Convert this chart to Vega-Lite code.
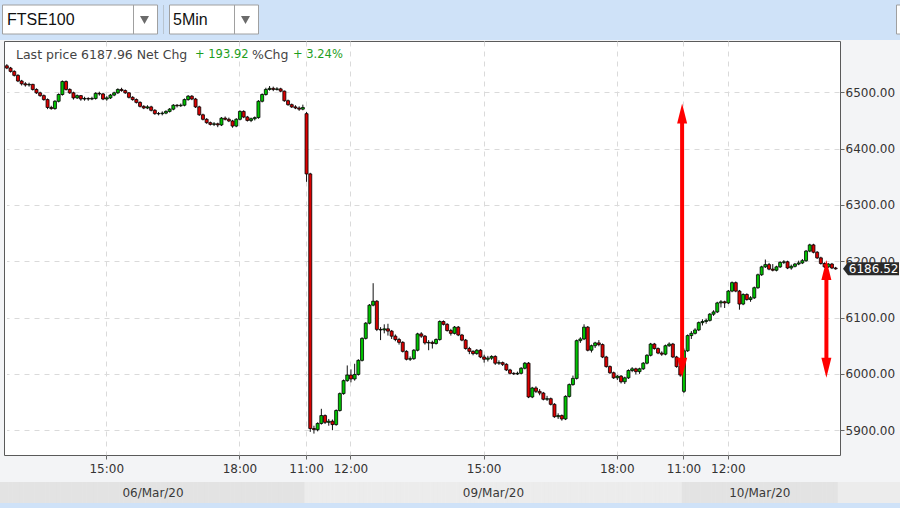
{
"$schema": "https://vega.github.io/schema/vega-lite/v6.json",
"width": 836, "height": 414,
"autosize": "none",
"padding": {"left": 4, "top": 41, "right": 60, "bottom": 53},
"background": "#f3f4f6",
"view": {"fill": "white", "stroke": "#5a5a5a", "strokeWidth": 1},
"config": {
  "font": "DejaVu Sans",
  "axis": {"labelFont": "DejaVu Sans", "labelFontSize": 12, "labelColor": "#333333", "tickColor": "#666666", "tickSize": 4, "domain": false, "grid": true, "gridColor": "#dadada", "gridDash": [5, 5]},
  "axisX": {"labelPadding": 4, "labelAngle": 0},
  "axisY": {"labelPadding": 1}
},
"datasets": {
"candles": [
{"t":"03-06 12:45","o":6547,"h":6550,"l":6541,"c":6543},
{"t":"03-06 12:50","o":6543,"h":6545,"l":6535,"c":6537},
{"t":"03-06 12:55","o":6537,"h":6539,"l":6528,"c":6530},
{"t":"03-06 13:00","o":6530,"h":6532,"l":6518,"c":6520},
{"t":"03-06 13:05","o":6520,"h":6522,"l":6512,"c":6515},
{"t":"03-06 13:10","o":6515,"h":6518,"l":6510,"c":6513},
{"t":"03-06 13:15","o":6513,"h":6517,"l":6510,"c":6514},
{"t":"03-06 13:20","o":6514,"h":6515,"l":6503,"c":6505},
{"t":"03-06 13:25","o":6505,"h":6507,"l":6497,"c":6499},
{"t":"03-06 13:30","o":6499,"h":6501,"l":6492,"c":6494},
{"t":"03-06 13:35","o":6494,"h":6496,"l":6485,"c":6487},
{"t":"03-06 13:40","o":6487,"h":6489,"l":6470,"c":6473},
{"t":"03-06 13:45","o":6473,"h":6476,"l":6469,"c":6471},
{"t":"03-06 13:50","o":6471,"h":6486,"l":6469,"c":6484},
{"t":"03-06 13:55","o":6484,"h":6498,"l":6482,"c":6496},
{"t":"03-06 14:00","o":6496,"h":6521,"l":6494,"c":6519},
{"t":"03-06 14:05","o":6519,"h":6521,"l":6503,"c":6505},
{"t":"03-06 14:10","o":6505,"h":6507,"l":6497,"c":6499},
{"t":"03-06 14:15","o":6499,"h":6501,"l":6487,"c":6490},
{"t":"03-06 14:20","o":6490,"h":6496,"l":6488,"c":6494},
{"t":"03-06 14:25","o":6494,"h":6495,"l":6485,"c":6488},
{"t":"03-06 14:30","o":6488,"h":6492,"l":6485,"c":6489},
{"t":"03-06 14:35","o":6489,"h":6491,"l":6485,"c":6488},
{"t":"03-06 14:40","o":6488,"h":6492,"l":6486,"c":6489},
{"t":"03-06 14:45","o":6489,"h":6500,"l":6487,"c":6498},
{"t":"03-06 14:50","o":6498,"h":6501,"l":6494,"c":6497},
{"t":"03-06 14:55","o":6497,"h":6499,"l":6486,"c":6488},
{"t":"03-06 15:00","o":6488,"h":6493,"l":6485,"c":6490},
{"t":"03-06 15:05","o":6490,"h":6497,"l":6488,"c":6495},
{"t":"03-06 15:10","o":6495,"h":6501,"l":6493,"c":6499},
{"t":"03-06 15:15","o":6499,"h":6507,"l":6497,"c":6505},
{"t":"03-06 15:20","o":6505,"h":6508,"l":6501,"c":6503},
{"t":"03-06 15:25","o":6503,"h":6505,"l":6497,"c":6499},
{"t":"03-06 15:30","o":6499,"h":6500,"l":6489,"c":6491},
{"t":"03-06 15:35","o":6491,"h":6493,"l":6485,"c":6487},
{"t":"03-06 15:40","o":6487,"h":6489,"l":6480,"c":6482},
{"t":"03-06 15:45","o":6482,"h":6484,"l":6473,"c":6475},
{"t":"03-06 15:50","o":6475,"h":6477,"l":6470,"c":6472},
{"t":"03-06 15:55","o":6472,"h":6477,"l":6470,"c":6474},
{"t":"03-06 16:00","o":6474,"h":6476,"l":6466,"c":6468},
{"t":"03-06 16:05","o":6468,"h":6470,"l":6460,"c":6462},
{"t":"03-06 16:10","o":6462,"h":6465,"l":6459,"c":6462},
{"t":"03-06 16:15","o":6462,"h":6466,"l":6459,"c":6463},
{"t":"03-06 16:20","o":6463,"h":6468,"l":6461,"c":6466},
{"t":"03-06 16:25","o":6466,"h":6472,"l":6464,"c":6470},
{"t":"03-06 16:30","o":6470,"h":6479,"l":6468,"c":6477},
{"t":"03-06 16:35","o":6477,"h":6479,"l":6473,"c":6476},
{"t":"03-06 16:40","o":6476,"h":6480,"l":6474,"c":6477},
{"t":"03-06 16:45","o":6477,"h":6489,"l":6475,"c":6487},
{"t":"03-06 16:50","o":6487,"h":6495,"l":6485,"c":6493},
{"t":"03-06 16:55","o":6493,"h":6495,"l":6486,"c":6488},
{"t":"03-06 17:00","o":6488,"h":6490,"l":6472,"c":6474},
{"t":"03-06 17:05","o":6474,"h":6476,"l":6458,"c":6460},
{"t":"03-06 17:10","o":6460,"h":6462,"l":6450,"c":6452},
{"t":"03-06 17:15","o":6452,"h":6454,"l":6444,"c":6446},
{"t":"03-06 17:20","o":6446,"h":6448,"l":6441,"c":6443},
{"t":"03-06 17:25","o":6443,"h":6447,"l":6440,"c":6444},
{"t":"03-06 17:30","o":6444,"h":6446,"l":6438,"c":6442},
{"t":"03-06 17:35","o":6442,"h":6456,"l":6440,"c":6454},
{"t":"03-06 17:40","o":6454,"h":6457,"l":6450,"c":6452},
{"t":"03-06 17:45","o":6452,"h":6455,"l":6447,"c":6449},
{"t":"03-06 17:50","o":6449,"h":6451,"l":6437,"c":6440},
{"t":"03-06 17:55","o":6440,"h":6454,"l":6438,"c":6452},
{"t":"03-06 18:00","o":6452,"h":6468,"l":6450,"c":6466},
{"t":"03-06 18:05","o":6466,"h":6468,"l":6454,"c":6456},
{"t":"03-06 18:10","o":6456,"h":6458,"l":6448,"c":6450},
{"t":"03-06 18:15","o":6450,"h":6455,"l":6447,"c":6453},
{"t":"03-06 18:20","o":6453,"h":6457,"l":6450,"c":6455},
{"t":"03-06 18:25","o":6455,"h":6486,"l":6453,"c":6484},
{"t":"03-06 18:30","o":6484,"h":6498,"l":6482,"c":6496},
{"t":"03-06 18:35","o":6496,"h":6508,"l":6494,"c":6505},
{"t":"03-06 18:40","o":6505,"h":6511,"l":6503,"c":6507},
{"t":"03-06 18:45","o":6507,"h":6510,"l":6502,"c":6505},
{"t":"03-06 18:50","o":6505,"h":6509,"l":6503,"c":6506},
{"t":"03-06 18:55","o":6506,"h":6508,"l":6500,"c":6502},
{"t":"03-06 19:00","o":6502,"h":6503,"l":6483,"c":6485},
{"t":"03-06 19:05","o":6485,"h":6487,"l":6476,"c":6478},
{"t":"03-06 19:10","o":6478,"h":6480,"l":6472,"c":6474},
{"t":"03-06 19:15","o":6474,"h":6477,"l":6470,"c":6472},
{"t":"03-06 19:20","o":6472,"h":6475,"l":6467,"c":6470},
{"t":"03-06 19:25","o":6470,"h":6478,"l":6468,"c":6473},
{"t":"03-09 11:00","o":6462,"h":6465,"l":6341,"c":6355},
{"t":"03-09 11:05","o":6355,"h":6357,"l":5897,"c":5903},
{"t":"03-09 11:10","o":5903,"h":5908,"l":5894,"c":5901},
{"t":"03-09 11:15","o":5901,"h":5914,"l":5898,"c":5912},
{"t":"03-09 11:20","o":5912,"h":5938,"l":5910,"c":5926},
{"t":"03-09 11:25","o":5926,"h":5928,"l":5911,"c":5914},
{"t":"03-09 11:30","o":5914,"h":5920,"l":5908,"c":5916},
{"t":"03-09 11:35","o":5916,"h":5919,"l":5900,"c":5910},
{"t":"03-09 11:40","o":5910,"h":5937,"l":5908,"c":5935},
{"t":"03-09 11:45","o":5935,"h":5967,"l":5933,"c":5965},
{"t":"03-09 11:50","o":5965,"h":5990,"l":5963,"c":5988},
{"t":"03-09 11:55","o":5988,"h":6015,"l":5986,"c":5998},
{"t":"03-09 12:00","o":5998,"h":6008,"l":5985,"c":5991},
{"t":"03-09 12:05","o":5991,"h":6018,"l":5988,"c":5999},
{"t":"03-09 12:10","o":5999,"h":6026,"l":5997,"c":6024},
{"t":"03-09 12:15","o":6024,"h":6065,"l":6022,"c":6063},
{"t":"03-09 12:20","o":6063,"h":6092,"l":6061,"c":6090},
{"t":"03-09 12:25","o":6090,"h":6124,"l":6088,"c":6122},
{"t":"03-09 12:30","o":6122,"h":6161,"l":6120,"c":6129},
{"t":"03-09 12:35","o":6129,"h":6131,"l":6076,"c":6079},
{"t":"03-09 12:40","o":6079,"h":6083,"l":6060,"c":6078},
{"t":"03-09 12:45","o":6078,"h":6088,"l":6072,"c":6080},
{"t":"03-09 12:50","o":6080,"h":6089,"l":6068,"c":6076},
{"t":"03-09 12:55","o":6076,"h":6078,"l":6062,"c":6067},
{"t":"03-09 13:00","o":6067,"h":6070,"l":6058,"c":6061},
{"t":"03-09 13:05","o":6061,"h":6064,"l":6052,"c":6056},
{"t":"03-09 13:10","o":6056,"h":6058,"l":6038,"c":6040},
{"t":"03-09 13:15","o":6040,"h":6042,"l":6024,"c":6026},
{"t":"03-09 13:20","o":6026,"h":6031,"l":6023,"c":6027},
{"t":"03-09 13:25","o":6027,"h":6044,"l":6025,"c":6042},
{"t":"03-09 13:30","o":6042,"h":6073,"l":6040,"c":6071},
{"t":"03-09 13:35","o":6071,"h":6074,"l":6064,"c":6067},
{"t":"03-09 13:40","o":6067,"h":6069,"l":6052,"c":6055},
{"t":"03-09 13:45","o":6055,"h":6060,"l":6042,"c":6056},
{"t":"03-09 13:50","o":6056,"h":6059,"l":6045,"c":6054},
{"t":"03-09 13:55","o":6054,"h":6063,"l":6052,"c":6061},
{"t":"03-09 14:00","o":6061,"h":6095,"l":6059,"c":6093},
{"t":"03-09 14:05","o":6093,"h":6095,"l":6086,"c":6088},
{"t":"03-09 14:10","o":6088,"h":6090,"l":6075,"c":6077},
{"t":"03-09 14:15","o":6077,"h":6080,"l":6068,"c":6072},
{"t":"03-09 14:20","o":6072,"h":6085,"l":6070,"c":6083},
{"t":"03-09 14:25","o":6083,"h":6085,"l":6067,"c":6069},
{"t":"03-09 14:30","o":6069,"h":6071,"l":6058,"c":6060},
{"t":"03-09 14:35","o":6060,"h":6062,"l":6043,"c":6045},
{"t":"03-09 14:40","o":6045,"h":6048,"l":6035,"c":6040},
{"t":"03-09 14:45","o":6040,"h":6042,"l":6033,"c":6036},
{"t":"03-09 14:50","o":6036,"h":6044,"l":6034,"c":6042},
{"t":"03-09 14:55","o":6042,"h":6044,"l":6028,"c":6030},
{"t":"03-09 15:00","o":6030,"h":6034,"l":6020,"c":6026},
{"t":"03-09 15:05","o":6026,"h":6032,"l":6022,"c":6028},
{"t":"03-09 15:10","o":6028,"h":6033,"l":6025,"c":6031},
{"t":"03-09 15:15","o":6031,"h":6033,"l":6016,"c":6019},
{"t":"03-09 15:20","o":6019,"h":6024,"l":6016,"c":6020},
{"t":"03-09 15:25","o":6020,"h":6022,"l":6014,"c":6017},
{"t":"03-09 15:30","o":6017,"h":6019,"l":6005,"c":6007},
{"t":"03-09 15:35","o":6007,"h":6009,"l":5999,"c":6001},
{"t":"03-09 15:40","o":6001,"h":6003,"l":5998,"c":6000},
{"t":"03-09 15:45","o":6000,"h":6004,"l":5998,"c":6001},
{"t":"03-09 15:50","o":6001,"h":6012,"l":5999,"c":6010},
{"t":"03-09 15:55","o":6010,"h":6021,"l":6008,"c":6019},
{"t":"03-09 16:00","o":6019,"h":6021,"l":5957,"c":5959},
{"t":"03-09 16:05","o":5959,"h":5977,"l":5957,"c":5975},
{"t":"03-09 16:10","o":5975,"h":5978,"l":5966,"c":5969},
{"t":"03-09 16:15","o":5969,"h":5973,"l":5962,"c":5966},
{"t":"03-09 16:20","o":5966,"h":5968,"l":5953,"c":5955},
{"t":"03-09 16:25","o":5955,"h":5961,"l":5952,"c":5956},
{"t":"03-09 16:30","o":5956,"h":5958,"l":5944,"c":5946},
{"t":"03-09 16:35","o":5946,"h":5948,"l":5922,"c":5924},
{"t":"03-09 16:40","o":5924,"h":5930,"l":5920,"c":5926},
{"t":"03-09 16:45","o":5926,"h":5928,"l":5917,"c":5920},
{"t":"03-09 16:50","o":5920,"h":5962,"l":5918,"c":5960},
{"t":"03-09 16:55","o":5960,"h":5983,"l":5958,"c":5981},
{"t":"03-09 17:00","o":5981,"h":5997,"l":5979,"c":5992},
{"t":"03-09 17:05","o":5992,"h":6061,"l":5990,"c":6059},
{"t":"03-09 17:10","o":6059,"h":6065,"l":6055,"c":6062},
{"t":"03-09 17:15","o":6062,"h":6088,"l":6060,"c":6083},
{"t":"03-09 17:20","o":6083,"h":6085,"l":6040,"c":6042},
{"t":"03-09 17:25","o":6042,"h":6052,"l":6038,"c":6050},
{"t":"03-09 17:30","o":6050,"h":6057,"l":6046,"c":6055},
{"t":"03-09 17:35","o":6055,"h":6060,"l":6049,"c":6052},
{"t":"03-09 17:40","o":6052,"h":6054,"l":6028,"c":6030},
{"t":"03-09 17:45","o":6030,"h":6032,"l":6011,"c":6013},
{"t":"03-09 17:50","o":6013,"h":6015,"l":6000,"c":6002},
{"t":"03-09 17:55","o":6002,"h":6004,"l":5991,"c":5993},
{"t":"03-09 18:00","o":5993,"h":5998,"l":5989,"c":5996},
{"t":"03-09 18:05","o":5996,"h":5998,"l":5983,"c":5986},
{"t":"03-09 18:10","o":5986,"h":5995,"l":5982,"c":5993},
{"t":"03-09 18:15","o":5993,"h":6008,"l":5991,"c":6006},
{"t":"03-09 18:20","o":6006,"h":6012,"l":6003,"c":6009},
{"t":"03-09 18:25","o":6009,"h":6011,"l":5999,"c":6004},
{"t":"03-09 18:30","o":6004,"h":6011,"l":6000,"c":6009},
{"t":"03-09 18:35","o":6009,"h":6021,"l":6007,"c":6019},
{"t":"03-09 18:40","o":6019,"h":6035,"l":6017,"c":6033},
{"t":"03-09 18:45","o":6033,"h":6055,"l":6031,"c":6053},
{"t":"03-09 18:50","o":6053,"h":6055,"l":6043,"c":6045},
{"t":"03-09 18:55","o":6045,"h":6047,"l":6035,"c":6037},
{"t":"03-09 19:00","o":6037,"h":6040,"l":6032,"c":6035},
{"t":"03-09 19:05","o":6035,"h":6052,"l":6033,"c":6050},
{"t":"03-09 19:10","o":6050,"h":6056,"l":6048,"c":6053},
{"t":"03-09 19:15","o":6053,"h":6055,"l":6028,"c":6030},
{"t":"03-09 19:20","o":6030,"h":6032,"l":6011,"c":6013},
{"t":"03-09 19:25","o":6013,"h":6015,"l":5995,"c":5998},
{"t":"03-10 11:00","o":5969,"h":6045,"l":5966,"c":6041},
{"t":"03-10 11:05","o":6041,"h":6070,"l":6039,"c":6068},
{"t":"03-10 11:10","o":6068,"h":6076,"l":6062,"c":6072},
{"t":"03-10 11:15","o":6072,"h":6081,"l":6070,"c":6078},
{"t":"03-10 11:20","o":6078,"h":6093,"l":6076,"c":6091},
{"t":"03-10 11:25","o":6091,"h":6097,"l":6086,"c":6093},
{"t":"03-10 11:30","o":6093,"h":6098,"l":6089,"c":6095},
{"t":"03-10 11:35","o":6095,"h":6108,"l":6093,"c":6106},
{"t":"03-10 11:40","o":6106,"h":6113,"l":6103,"c":6110},
{"t":"03-10 11:45","o":6110,"h":6128,"l":6108,"c":6126},
{"t":"03-10 11:50","o":6126,"h":6131,"l":6118,"c":6128},
{"t":"03-10 11:55","o":6128,"h":6130,"l":6117,"c":6126},
{"t":"03-10 12:00","o":6126,"h":6149,"l":6124,"c":6147},
{"t":"03-10 12:05","o":6147,"h":6164,"l":6145,"c":6162},
{"t":"03-10 12:10","o":6162,"h":6164,"l":6145,"c":6147},
{"t":"03-10 12:15","o":6147,"h":6149,"l":6114,"c":6124},
{"t":"03-10 12:20","o":6124,"h":6143,"l":6122,"c":6141},
{"t":"03-10 12:25","o":6141,"h":6143,"l":6130,"c":6132},
{"t":"03-10 12:30","o":6132,"h":6138,"l":6128,"c":6135},
{"t":"03-10 12:35","o":6135,"h":6155,"l":6133,"c":6153},
{"t":"03-10 12:40","o":6153,"h":6178,"l":6151,"c":6176},
{"t":"03-10 12:45","o":6176,"h":6192,"l":6174,"c":6190},
{"t":"03-10 12:50","o":6190,"h":6203,"l":6188,"c":6194},
{"t":"03-10 12:55","o":6194,"h":6197,"l":6184,"c":6186},
{"t":"03-10 13:00","o":6186,"h":6195,"l":6182,"c":6184},
{"t":"03-10 13:05","o":6184,"h":6192,"l":6182,"c":6190},
{"t":"03-10 13:10","o":6190,"h":6200,"l":6188,"c":6198},
{"t":"03-10 13:15","o":6198,"h":6202,"l":6195,"c":6199},
{"t":"03-10 13:20","o":6199,"h":6201,"l":6186,"c":6188},
{"t":"03-10 13:25","o":6188,"h":6194,"l":6185,"c":6191},
{"t":"03-10 13:30","o":6191,"h":6197,"l":6189,"c":6195},
{"t":"03-10 13:35","o":6195,"h":6201,"l":6193,"c":6197},
{"t":"03-10 13:40","o":6197,"h":6204,"l":6195,"c":6201},
{"t":"03-10 13:45","o":6201,"h":6220,"l":6199,"c":6218},
{"t":"03-10 13:50","o":6218,"h":6231,"l":6216,"c":6229},
{"t":"03-10 13:55","o":6229,"h":6231,"l":6214,"c":6216},
{"t":"03-10 14:00","o":6216,"h":6218,"l":6204,"c":6206},
{"t":"03-10 14:05","o":6206,"h":6208,"l":6194,"c":6196},
{"t":"03-10 14:10","o":6196,"h":6198,"l":6188,"c":6190},
{"t":"03-10 14:15","o":6190,"h":6197,"l":6188,"c":6195},
{"t":"03-10 14:20","o":6195,"h":6197,"l":6186,"c":6188},
{"t":"03-10 14:25","o":6188,"h":6190,"l":6185,"c":6186.52}
],
"arrows": [
{"t":"03-09 19:25","top":6480,"bottom":5993,"shaftTop":6450,"shaftBottom":6023},
{"t":"03-10 14:10","top":6202,"bottom":5993,"shaftTop":6172,"shaftBottom":6023}
],
"dates": [
{"t":"03-06 16:05","d":"06/Mar/20"},
{"t":"03-09 15:15","d":"09/Mar/20"},
{"t":"03-10 12:45","d":"10/Mar/20"}
],
"last": [{"t":"03-10 14:25","p":6186.52,"label":"6186.52"}]
},
"layer": [
{"data": {"values": [{}]}, "mark": {"type": "rect", "fill": "#cfe2f8"},
 "encoding": {"x": {"value": -4}, "x2": {"value": 896}, "y": {"value": -41}, "y2": {"value": -1}}},
{"data": {"values": [{}]}, "mark": {"type": "rect", "fill": "#cfe2f8"},
 "encoding": {"x": {"value": -4}, "x2": {"value": 896}, "y": {"value": 462}, "y2": {"value": 467}}},
{"data": {"values": [{}]}, "mark": {"type": "rect", "fill": "#e3e3e3"},
 "encoding": {"x": {"value": -4}, "x2": {"value": 2}, "y": {"value": 441}, "y2": {"value": 462}}},
{"data": {"values": [{}]}, "mark": {"type": "rect", "fill": "#ececec"},
 "encoding": {"x": {"value": 833}, "x2": {"value": 896}, "y": {"value": 441}, "y2": {"value": 462}}},
{"data": {"name": "candles"}, "mark": {"type": "bar", "width": 4.2},
 "encoding": {
   "x": {"field": "t", "type": "ordinal", "sort": "ascending", "title": null,
         "scale": {"type": "band", "range": [1, 833.5], "paddingInner": 0, "paddingOuter": 0},
         "axis": {"values": ["03-06 15:00","03-06 18:00","03-09 11:00","03-09 12:00","03-09 15:00","03-09 18:00","03-10 11:00","03-10 12:00"],
                  "labelExpr": "slice(datum.value, 6)", "title": null}},
   "y": {"value": 441}, "y2": {"value": 462},
   "fill": {"condition": {"test": "slice(datum.t, 0, 5) == '03-09'", "value": "#ececec"}, "value": "#e3e3e3"}}},
{"data": {"name": "dates"}, "mark": {"type": "text", "fontSize": 12, "font": "DejaVu Sans", "fill": "#3a3a3a", "baseline": "middle", "align": "center"},
 "encoding": {"x": {"field": "t", "type": "ordinal", "bandPosition": 0, "title": null}, "y": {"value": 451.5}, "text": {"field": "d"}}},
{"data": {"name": "candles"}, "mark": {"type": "rule", "color": "#111111", "strokeWidth": 1},
 "encoding": {
   "x": {"field": "t", "type": "ordinal", "title": null},
   "y": {"field": "l", "type": "quantitative", "title": null,
         "scale": {"domain": [5856, 6591], "nice": false, "zero": false},
         "axis": {"orient": "right", "values": [5900, 6000, 6100, 6200, 6300, 6400, 6500], "format": ".2f", "title": null}},
   "y2": {"field": "h"}}},
{"data": {"name": "candles"}, "mark": {"type": "bar", "width": 3, "stroke": "#000000", "strokeWidth": 0.8},
 "encoding": {
   "x": {"field": "t", "type": "ordinal", "title": null},
   "y": {"field": "o", "type": "quantitative", "title": null, "scale": {"domain": [5856, 6591], "nice": false, "zero": false}},
   "y2": {"field": "c"},
   "fill": {"condition": {"test": "datum.c >= datum.o", "value": "#00c400"}, "value": "#dc0000"}}},
{"data": {"name": "arrows"}, "mark": {"type": "rule", "color": "#ff0000", "strokeWidth": 4},
 "encoding": {
   "x": {"field": "t", "type": "ordinal", "bandPosition": 1, "title": null},
   "y": {"field": "shaftTop", "type": "quantitative", "title": null, "scale": {"domain": [5856, 6591], "nice": false, "zero": false}},
   "y2": {"field": "shaftBottom"}}},
{"data": {"name": "arrows"}, "mark": {"type": "point", "shape": "M 0 0 L 1 4 L -1 4 Z", "size": 100, "filled": true, "fill": "#ff0000", "opacity": 1, "strokeWidth": 0},
 "encoding": {
   "x": {"field": "t", "type": "ordinal", "bandPosition": 1, "title": null},
   "y": {"field": "top", "type": "quantitative", "title": null, "scale": {"domain": [5856, 6591], "nice": false, "zero": false}}}},
{"data": {"name": "arrows"}, "mark": {"type": "point", "shape": "M 0 0 L 1 -4 L -1 -4 Z", "size": 100, "filled": true, "fill": "#ff0000", "opacity": 1, "strokeWidth": 0},
 "encoding": {
   "x": {"field": "t", "type": "ordinal", "bandPosition": 1, "title": null},
   "y": {"field": "bottom", "type": "quantitative", "title": null, "scale": {"domain": [5856, 6591], "nice": false, "zero": false}}}},
{"data": {"name": "last"}, "mark": {"type": "point", "shape": "M 1.47 0 L 2.47 -1.3 L 12.67 -1.3 L 12.67 1.3 L 2.47 1.3 Z", "size": 100, "filled": true, "fill": "#2a2a2a", "opacity": 1, "strokeWidth": 0},
 "encoding": {
   "x": {"field": "t", "type": "ordinal", "title": null},
   "y": {"field": "p", "type": "quantitative", "title": null, "scale": {"domain": [5856, 6591], "nice": false, "zero": false}}}},
{"data": {"name": "last"}, "mark": {"type": "text", "fill": "white", "fontSize": 12, "font": "DejaVu Sans", "align": "center", "baseline": "middle", "dx": 38},
 "encoding": {
   "x": {"field": "t", "type": "ordinal", "title": null},
   "y": {"field": "p", "type": "quantitative", "title": null, "scale": {"domain": [5856, 6591], "nice": false, "zero": false}},
   "text": {"field": "label"}}},
{"data": {"values": [{}]}, "mark": {"type": "text", "text": "Last price 6187.96 Net Chg", "fontSize": 12.5, "font": "DejaVu Sans", "fill": "#444444", "align": "left", "baseline": "middle"},
 "encoding": {"x": {"value": 12}, "y": {"value": 14}}},
{"data": {"values": [{}]}, "mark": {"type": "text", "text": "+ 193.92", "fontSize": 11.5, "font": "DejaVu Sans", "fill": "#1e9e1e", "align": "left", "baseline": "middle"},
 "encoding": {"x": {"value": 191}, "y": {"value": 14}}},
{"data": {"values": [{}]}, "mark": {"type": "text", "text": "%Chg", "fontSize": 12.5, "font": "DejaVu Sans", "fill": "#444444", "align": "left", "baseline": "middle"},
 "encoding": {"x": {"value": 248}, "y": {"value": 14}}},
{"data": {"values": [{}]}, "mark": {"type": "text", "text": "+ 3.24%", "fontSize": 11.5, "font": "DejaVu Sans", "fill": "#1e9e1e", "align": "left", "baseline": "middle"},
 "encoding": {"x": {"value": 289}, "y": {"value": 14}}},
{"data": {"values": [{}]}, "mark": {"type": "rect", "fill": "white", "stroke": "#a0a0a0", "strokeWidth": 1},
 "encoding": {"x": {"value": -1.5}, "x2": {"value": 153.5}, "y": {"value": -36}, "y2": {"value": -7}}},
{"data": {"values": [{}]}, "mark": {"type": "rect", "fill": "white", "stroke": "#a0a0a0", "strokeWidth": 1},
 "encoding": {"x": {"value": 165.5}, "x2": {"value": 254.5}, "y": {"value": -36}, "y2": {"value": -7}}},
{"data": {"values": [{}]}, "mark": {"type": "rect", "fill": "white", "stroke": "#a0a0a0", "strokeWidth": 1},
 "encoding": {"x": {"value": 892.5}, "x2": {"value": 910}, "y": {"value": -36}, "y2": {"value": -7}}},
{"data": {"values": [{}]}, "mark": {"type": "rule", "stroke": "#a0a0a0", "strokeWidth": 1},
 "encoding": {"x": {"value": 129.5}, "y": {"value": -36}, "y2": {"value": -7}}},
{"data": {"values": [{}]}, "mark": {"type": "rule", "stroke": "#a0a0a0", "strokeWidth": 1},
 "encoding": {"x": {"value": 230.5}, "y": {"value": -36}, "y2": {"value": -7}}},
{"data": {"values": [{}]}, "mark": {"type": "rule", "stroke": "#b8c4d0", "strokeWidth": 1},
 "encoding": {"x": {"value": 159.5}, "y": {"value": -36}, "y2": {"value": -7}}},
{"data": {"values": [{}]}, "mark": {"type": "point", "shape": "M -1 -0.9 L 1 -0.9 L 0 0.9 Z", "size": 81, "filled": true, "fill": "#6b6b6b", "opacity": 1, "strokeWidth": 0},
 "encoding": {"x": {"value": 140.5}, "y": {"value": -21}}},
{"data": {"values": [{}]}, "mark": {"type": "point", "shape": "M -1 -0.9 L 1 -0.9 L 0 0.9 Z", "size": 81, "filled": true, "fill": "#6b6b6b", "opacity": 1, "strokeWidth": 0},
 "encoding": {"x": {"value": 241.5}, "y": {"value": -21}}},
{"data": {"values": [{}]}, "mark": {"type": "text", "text": "FTSE100", "fontSize": 16, "font": "Liberation Sans", "fill": "#111111", "align": "left", "baseline": "middle"},
 "encoding": {"x": {"value": 3}, "y": {"value": -21}}},
{"data": {"values": [{}]}, "mark": {"type": "text", "text": "5Min", "fontSize": 16, "font": "Liberation Sans", "fill": "#111111", "align": "left", "baseline": "middle"},
 "encoding": {"x": {"value": 169}, "y": {"value": -21}}}
]
}
